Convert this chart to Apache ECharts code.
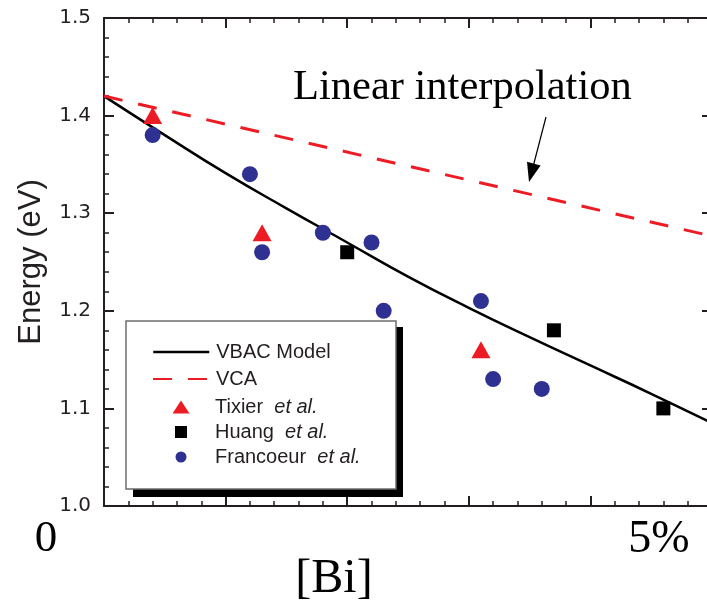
<!DOCTYPE html>
<html><head><meta charset="utf-8">
<script src="https://cdn.jsdelivr.net/npm/echarts@6/dist/echarts.min.js"></script>
<style>html,body{margin:0;padding:0;background:#fff}#c{width:707px;height:602px}</style>
</head><body><div id="c"></div>
<script>
// ---- data ----
const xTicks = [0, 1, 2, 3, 4, 5];
const yTickLabels = ['1.0', '1.1', '1.2', '1.3', '1.4', '1.5'];
const vbacBi = [0, 0.5, 1, 1.5, 2, 2.5, 3, 3.5, 4, 4.5, 5];
const vbacEnergy = [1.420, 1.380, 1.341, 1.305, 1.270, 1.235, 1.203, 1.173, 1.144, 1.115, 1.085];
const vcaBi = [0, 5];
const vcaEnergy = [1.420, 1.2765];
const tixierBi = [0.4, 1.3, 3.1];
const tixierEnergy = [1.40, 1.28, 1.16];
const huangBi = [2.0, 3.7, 4.6];
const huangEnergy = [1.26, 1.18, 1.10];
const francoeurBi = [0.4, 1.2, 1.3, 1.8, 2.2, 2.3, 3.1, 3.2, 3.6];
const francoeurEnergy = [1.38, 1.34, 1.26, 1.28, 1.27, 1.20, 1.21, 1.13, 1.12];
const seriesNames = ['VBAC Model', 'VCA', 'Tixier et al.', 'Huang et al.', 'Francoeur et al.'];
const xEndLabels = ['0', '5%'];
const xAxisTitle = '[Bi]';
const yAxisTitle = 'Energy (eV)';
const annotationText = 'Linear interpolation';

// ---- styles ----
const SANS = '"Liberation Sans", Arial, Helvetica, sans-serif';
const WIDE = '"DejaVu Sans", "Liberation Sans", sans-serif';
const SERIF = '"Liberation Serif", "Times New Roman", serif';
const INK = '#231f20';
const RED = '#ed1c24';
const BLUE = '#2e3192';

const zip = (a, b) => a.map((v, i) => [v, b[i]]);

const chart = echarts.init(document.getElementById('c'), null, {renderer: 'canvas'});

function axisBase(pos, isX) {
  return {
    type: 'value',
    position: pos,
    min: isX ? xTicks[0] : Number(yTickLabels[0]),
    max: isX ? xTicks[xTicks.length - 1] : Number(yTickLabels[yTickLabels.length - 1]),
    interval: isX ? 1 : 0.1,
    axisLine: {show: true, onZero: false, lineStyle: {color: INK, width: 2}},
    axisTick: {show: true, inside: true, length: 10, lineStyle: {color: INK, width: 2}},
    minorTick: {show: true, splitNumber: 5, length: 5, lineStyle: {color: INK, width: 1.5}},
    splitLine: {show: false},
    minorSplitLine: {show: false},
    axisLabel: {show: false}
  };
}

const yLeft = axisBase('left', false);
yLeft.axisLabel = {
  show: true, margin: 13, fontSize: 20, fontFamily: WIDE, color: INK,
  formatter: v => yTickLabels.find(t => Math.abs(Number(t) - v) < 1e-6) || ''
};
yLeft.name = yAxisTitle;
yLeft.nameLocation = 'middle';
yLeft.nameRotate = 90;
yLeft.nameGap = 57;
yLeft.nameTextStyle = {fontSize: 31, fontFamily: SANS, color: INK};

// legend layout (per row)
const legendRows = [352, 379, 407, 432, 457];
const legendIconW = [56, 56, 17, 12, 11];
const legendIconH = [14, 14, 13, 12, 11];
const markerCenterX = 181, lineLeft = 152, textStartX = 215;

function fmt(name) {
  const k = name.indexOf(' et al.');
  if (k < 0) return '{n|' + name + '}';
  return '{n|' + name.slice(0, k) + '  }{i|et al.}';
}

const legends = seriesNames.map((n, i) => {
  const w = legendIconW[i];
  const left = i < 2 ? lineLeft : markerCenterX - w / 2;
  const pad = Math.max(0, textStartX - (left + w + 5));
  const l = {
    data: [n], left: left, top: legendRows[i] - 10, orient: 'vertical', padding: 0,
    itemWidth: w, itemHeight: legendIconH[i], selectedMode: false, z: 10,
    formatter: fmt,
    textStyle: {
      fontSize: 20, fontFamily: SANS, color: INK,
      rich: {
        n: {fontSize: 20, fontFamily: SANS, color: INK, padding: [0, 0, 0, pad]},
        i: {fontSize: 20, fontFamily: SANS, color: INK, fontStyle: 'italic'}
      }
    }
  };
  if (i < 2) l.itemStyle = {opacity: 0};
  if (i === 0) l.lineStyle = {width: 2.5};
  return l;
});

const option = {
  animation: false,
  backgroundColor: '#fff',
  grid: {left: 104, top: 18, width: 608, height: 488, outerBoundsMode: 'none', containLabel: false},
  xAxis: [axisBase('bottom', true), axisBase('top', true)],
  yAxis: [yLeft, axisBase('right', false)],
  legend: legends,
  series: [
    {name: seriesNames[0], type: 'line', data: zip(vbacBi, vbacEnergy), symbol: 'none', smooth: true,
     lineStyle: {color: '#000', width: 2.5}, itemStyle: {color: '#000'}, z: 3, silent: true},
    {name: seriesNames[1], type: 'line', data: zip(vcaBi, vcaEnergy), symbol: 'none',
     lineStyle: {color: RED, width: 3, type: [19, 16]}, itemStyle: {color: RED}, z: 3, silent: true},
    {name: seriesNames[2], type: 'scatter', data: zip(tixierBi, tixierEnergy), symbol: 'triangle',
     symbolSize: [19, 17], itemStyle: {color: RED, opacity: 1}, z: 4, silent: true},
    {name: seriesNames[3], type: 'scatter', data: zip(huangBi, huangEnergy), symbol: 'rect',
     symbolSize: 14, itemStyle: {color: '#000', opacity: 1}, z: 4, silent: true},
    {name: seriesNames[4], type: 'scatter', data: zip(francoeurBi, francoeurEnergy), symbol: 'circle',
     symbolSize: 16, itemStyle: {color: BLUE, opacity: 1}, z: 4, silent: true}
  ],
  graphic: {elements: [
    {type: 'rect', z: 5, silent: true, shape: {x: 133, y: 327, width: 270, height: 170}, style: {fill: '#000'}},
    {type: 'rect', z: 6, silent: true, shape: {x: 126, y: 321, width: 270, height: 168},
     style: {fill: '#fff', stroke: '#6d6e71', lineWidth: 1.5}},
    {type: 'text', z: 6, silent: true, style: {text: annotationText, x: 293, y: 88, font: '42.5px ' + SERIF,
      fill: '#000', textAlign: 'left', textVerticalAlign: 'middle'}},
    {type: 'line', z: 6, silent: true, shape: {x1: 546, y1: 117, x2: 533.5, y2: 165}, style: {stroke: '#000', lineWidth: 1.2}},
    {type: 'polygon', z: 6, silent: true, shape: {points: [[529, 182], [540.6, 165.4], [527, 161.8]]}, style: {fill: '#000'}},
    {type: 'text', z: 6, silent: true, style: {text: xEndLabels[0], x: 46, y: 539, font: '45px ' + SERIF,
      fill: '#000', textAlign: 'center', textVerticalAlign: 'middle'}},
    {type: 'text', z: 6, silent: true, style: {text: xEndLabels[1], x: 659, y: 540, font: '46px ' + SERIF,
      fill: '#000', textAlign: 'center', textVerticalAlign: 'middle'}},
    {type: 'text', z: 6, silent: true, style: {text: xAxisTitle, x: 334, y: 579, font: '48px ' + SERIF,
      fill: '#000', textAlign: 'center', textVerticalAlign: 'middle'}}
  ]}
};
chart.setOption(option);
</script></body></html>
